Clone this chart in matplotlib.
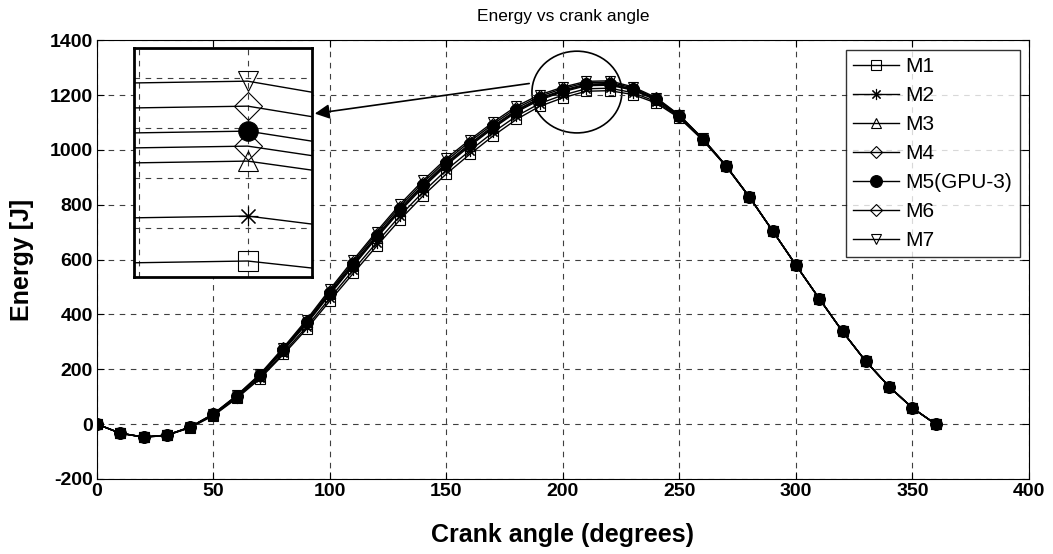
import numpy as np
import matplotlib
matplotlib.use('Agg')
import matplotlib.pyplot as plt
from matplotlib.patches import Ellipse

plt.rcParams['font.family'] = ['Liberation Sans', 'DejaVu Sans']
plt.rcParams['axes.unicode_minus'] = False

# Crank angle (degrees)
angle = list(range(0, 361, 10))

# Energy [J] for each model
m1 = [0, -33, -48, -41, -13, 31, 94, 166, 254, 347, 450, 550, 649, 745, 833, 913, 984, 1051, 1111,
      1159, 1190, 1214, 1216, 1202, 1171, 1116, 1036, 940, 828, 705, 580, 458, 338, 229, 137, 59, 0]
m2 = [0, -33, -48, -41, -12, 33, 97, 170, 260, 355, 460, 562, 662, 759, 847, 927, 997, 1064, 1123,
      1169, 1200, 1223, 1225, 1209, 1176, 1119, 1037, 941, 828, 705, 580, 458, 338, 229, 137, 59, 0]
m3 = [0, -33, -47, -40, -11, 35, 100, 175, 268, 366, 473, 577, 679, 776, 864, 944, 1014, 1079, 1138,
      1182, 1212, 1234, 1236, 1218, 1182, 1122, 1039, 942, 829, 705, 580, 458, 338, 229, 137, 59, 0]
m4 = [0, -33, -47, -40, -11, 36, 101, 177, 270, 369, 477, 582, 683, 781, 869, 949, 1018, 1083, 1142,
      1186, 1215, 1237, 1239, 1220, 1184, 1123, 1040, 942, 829, 705, 580, 458, 338, 229, 137, 59, 0]
m5 = [0, -33, -47, -40, -11, 36, 102, 178, 272, 371, 480, 585, 687, 785, 873, 953, 1022, 1087, 1145,
      1189, 1218, 1240, 1242, 1222, 1185, 1124, 1040, 942, 829, 705, 580, 458, 338, 229, 137, 59, 0]
m6 = [0, -33, -47, -40, -11, 37, 104, 180, 276, 376, 486, 592, 695, 793, 881, 961, 1030, 1094, 1152,
      1195, 1224, 1245, 1247, 1226, 1188, 1126, 1041, 942, 829, 705, 580, 458, 338, 229, 137, 59, 0]
m7 = [0, -33, -47, -40, -10, 38, 105, 183, 279, 381, 492, 599, 702, 801, 889, 969, 1037, 1101, 1159,
      1201, 1229, 1250, 1252, 1230, 1191, 1127, 1042, 943, 829, 705, 580, 458, 338, 229, 137, 59, 0]

labels = ['M1', 'M2', 'M3', 'M4', 'M5(GPU-3)', 'M6', 'M7']
series = [m1, m2, m3, m4, m5, m6, m7]
markers = ['s', (8, 2, 0), '^', 'D', 'o', 'D', 'v']
msizes = [7, 8, 7.5, 6.5, 8.5, 6.5, 7.5]
faces = ['none', 'none', 'none', 'none', 'k', 'none', 'none']

fig = plt.figure(figsize=(10.53, 5.54), dpi=100)
ax = fig.add_axes([0.0921, 0.1354, 0.885, 0.792])

grid_kw = dict(color='0.25', linestyle=(0, (5, 5)), linewidth=0.8)

for y, lab, mk, ms, fc in zip(series, labels, markers, msizes, faces):
    ax.plot(angle, y, color='k', linewidth=1.0, marker=mk, markersize=ms,
            markerfacecolor=fc, markeredgecolor='k', markeredgewidth=0.8, label=lab)

ax.set_xlim(0, 400)
ax.set_ylim(-200, 1400)
ax.set_xticks(range(0, 401, 50))
ax.set_yticks(range(-200, 1401, 200))
ax.grid(True, **grid_kw)
ax.tick_params(direction='in', top=True, right=True, length=5, labelsize=14, pad=3)
for t in ax.get_xticklabels() + ax.get_yticklabels():
    t.set_fontweight('bold')
ax.set_xlabel('Crank angle (degrees)', fontsize=18, fontweight='bold', va='center')
ax.set_ylabel('Energy [J]', fontsize=18, fontweight='bold', va='center')
ax.xaxis.set_label_coords(0.5, -0.1276)
ax.yaxis.set_label_coords(-0.0805, 0.5)
ax.set_title('Energy vs crank angle', fontsize=12.5, pad=14)

leg = ax.legend(loc='upper right', fontsize=15, frameon=True, fancybox=False,
                edgecolor='k', handlelength=2.2, labelspacing=0.48,
                borderaxespad=0.45, handletextpad=0.3, borderpad=0.35)
leg.get_frame().set_linewidth(1.0)

# highlight circle and arrow to the zoomed inset
ax.add_patch(Ellipse((206, 1211), 38.6, 298, fill=False, edgecolor='k', linewidth=1.2))
ax.annotate('', xy=(92.3, 1131), xytext=(186.7, 1243.6),
            arrowprops=dict(arrowstyle='-|>', color='k', lw=1.2, mutation_scale=22))

# zoomed inset around the peak
axin = fig.add_axes([0.127, 0.5, 0.169, 0.413])
for y, mk, fc in zip(series, markers, faces):
    axin.plot(angle, y, color='k', linewidth=1.0, marker=mk, markersize=14,
              markerfacecolor=fc, markeredgecolor='k', markeredgewidth=0.8)
axin.set_xlim(218.22, 221.0)
axin.set_ylim(1212.8, 1258.6)
axin.set_xticks([218.3, 220])
axin.set_yticks([1222.6, 1232.6, 1242.6, 1252.6])
axin.grid(True, **grid_kw)
axin.tick_params(length=0, labelbottom=False, labelleft=False)
for s in axin.spines.values():
    s.set_linewidth(2.0)

fig.savefig('out.png', dpi=100)
